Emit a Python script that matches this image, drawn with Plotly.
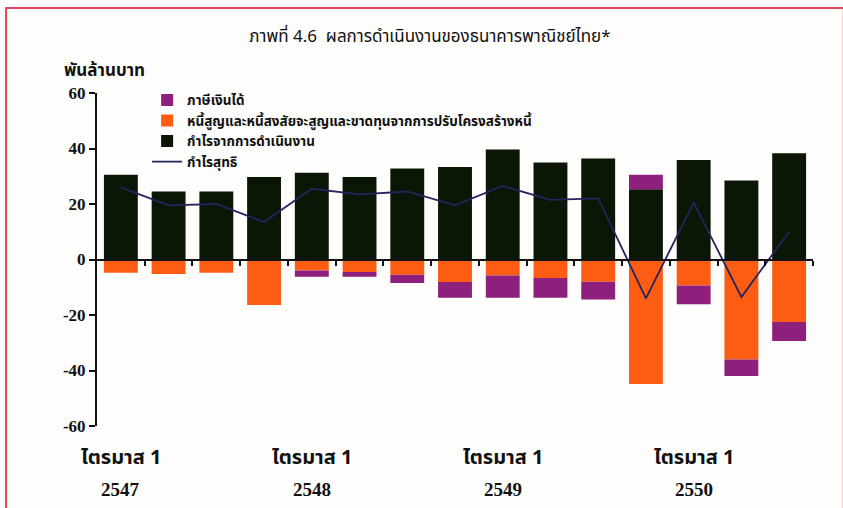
import plotly.graph_objects as go

# Quarterly results of Thai commercial banks (billion baht), Q1 2547 – Q3 2550
quarters = ["Q1/2547", "Q2/2547", "Q3/2547", "Q4/2547",
            "Q1/2548", "Q2/2548", "Q3/2548", "Q4/2548",
            "Q1/2549", "Q2/2549", "Q3/2549", "Q4/2549",
            "Q1/2550", "Q2/2550", "Q3/2550"]
operating_profit = [30.5, 24.5, 24.5, 29.7, 31.3, 29.7, 32.8, 33.3,
                    39.6, 35.0, 36.4, 25.3, 35.9, 28.5, 38.3]
provisions = [-4.8, -5.2, -4.8, -16.4, -4.0, -4.5, -5.5, -8.1,
              -5.8, -6.7, -8.0, -44.9, -9.4, -36.0, -22.5]
income_tax = [0.0, 0.0, 0.0, 0.0, -2.2, -1.7, -3.0, -5.7,
              -8.0, -7.1, -6.4, 5.2, -6.7, -6.0, -6.9]
net_profit = [26.0, 19.5, 20.0, 13.5, 25.5, 23.5, 24.5, 19.5,
              26.5, 21.5, 22.0, -14.0, 20.5, -13.5, 10.0]

year_label_idx = [0, 4, 8, 12]
year_labels = ["2547", "2548", "2549", "2550"]
quarter_text = "ไตรมาส 1"
y_ticks = [60, 40, 20, 0, -20, -40, -60]

x = list(range(len(quarters)))
boundaries = [i + 0.5 for i in x]

THAI = "Noto Sans Thai, Noto Serif Thai, Loma, Garuda, Liberation Serif, serif"
SERIF = "Liberation Serif, Times New Roman, serif"

PURPLE = "#8e1f7c"
ORANGE = "#fd5d12"
BLACK = "#0c1607"
LINE = "#25245c"

fig = go.Figure()
fig.add_trace(go.Bar(x=x, y=operating_profit, name="กำไรจากการดำเนินงาน",
                     marker=dict(color=BLACK, line=dict(width=0)),
                     width=0.71, legendrank=3))
fig.add_trace(go.Bar(x=x, y=provisions,
                     name="หนี้สูญและหนี้สงสัยจะสูญและขาดทุนจากการปรับโครงสร้างหนี้",
                     marker=dict(color=ORANGE, line=dict(width=0)),
                     width=0.71, legendrank=2))
fig.add_trace(go.Bar(x=x, y=income_tax, name="ภาษีเงินได้",
                     marker=dict(color=PURPLE, line=dict(width=0)),
                     width=0.71, legendrank=1))
fig.add_trace(go.Scatter(x=x, y=net_profit, name="กำไรสุทธิ", mode="lines",
                         line=dict(color=LINE, width=1.8), legendrank=4))
# carrier trace for the zero-line category axis
fig.add_trace(go.Scatter(x=[x[0]], y=[0], xaxis="x2", mode="markers",
                         marker=dict(opacity=0), showlegend=False,
                         hoverinfo="skip"))

annotations = []
for i, yr in zip(year_label_idx, year_labels):
    annotations.append(dict(x=i, y=-0.096, xref="x", yref="paper",
                            yanchor="middle",
                            text="<b>" + quarter_text + "</b>", showarrow=False,
                            font=dict(family=THAI, size=20, color="#111")))
    annotations.append(dict(x=i, y=-0.192, xref="x", yref="paper",
                            yanchor="middle",
                            text="<b>" + yr + "</b>", showarrow=False,
                            font=dict(family=SERIF, size=19, color="#111")))
annotations.append(dict(x=-0.049, y=1.066, xref="paper", yref="paper",
                        xanchor="left", yanchor="middle",
                        text="<b>พันล้านบาท</b>", showarrow=False,
                        font=dict(family=THAI, size=17, color="#111")))

fig.update_layout(
    width=843, height=508,
    margin=dict(l=97, r=30, t=93, b=82),
    paper_bgcolor="#fdfdfb", plot_bgcolor="rgba(0,0,0,0)",
    barmode="relative",
    title=dict(text="ภาพที่ 4.6  ผลการดำเนินงานของธนาคารพาณิชย์ไทย*",
               x=0.51, xanchor="center", y=0.93, yanchor="middle",
               font=dict(family=THAI, size=17, color="#111")),
    showlegend=True,
    legend=dict(x=0.07, y=1.025, xanchor="left", yanchor="top",
                bgcolor="rgba(0,0,0,0)", traceorder="normal",
                font=dict(family=THAI, size=13.5, color="#111", weight="bold"),
                itemwidth=30, tracegroupgap=0),
    xaxis=dict(range=[-0.5, len(x) - 0.5], showticklabels=False,
               showline=False, ticks="", showgrid=False, zeroline=False),
    xaxis2=dict(overlaying="x", anchor="free", position=0.5,
                range=[-0.5, len(x) - 0.5], tickmode="array",
                tickvals=boundaries, ticks="outside", ticklen=5,
                tickwidth=2, tickcolor="#111", showticklabels=False,
                showline=True, linecolor="#111", linewidth=2,
                showgrid=False, zeroline=False),
    yaxis=dict(range=[-60, 60], tickmode="array", tickvals=y_ticks,
               ticktext=["<b>%d</b>" % v for v in y_ticks],
               ticks="outside", ticklen=6, tickwidth=2, tickcolor="#111",
               showline=True, linecolor="#111", linewidth=2,
               showgrid=False, zeroline=False,
               tickfont=dict(family=SERIF, size=17, color="#111")),
    annotations=annotations,
    shapes=[dict(type="rect", xref="paper", yref="paper",
                 x0=-0.127, x1=1.043, y0=-0.3, y1=1.255,
                 line=dict(color="#e0485e", width=2),
                 fillcolor="rgba(0,0,0,0)", layer="below")],
)

fig.write_html("out.html")
